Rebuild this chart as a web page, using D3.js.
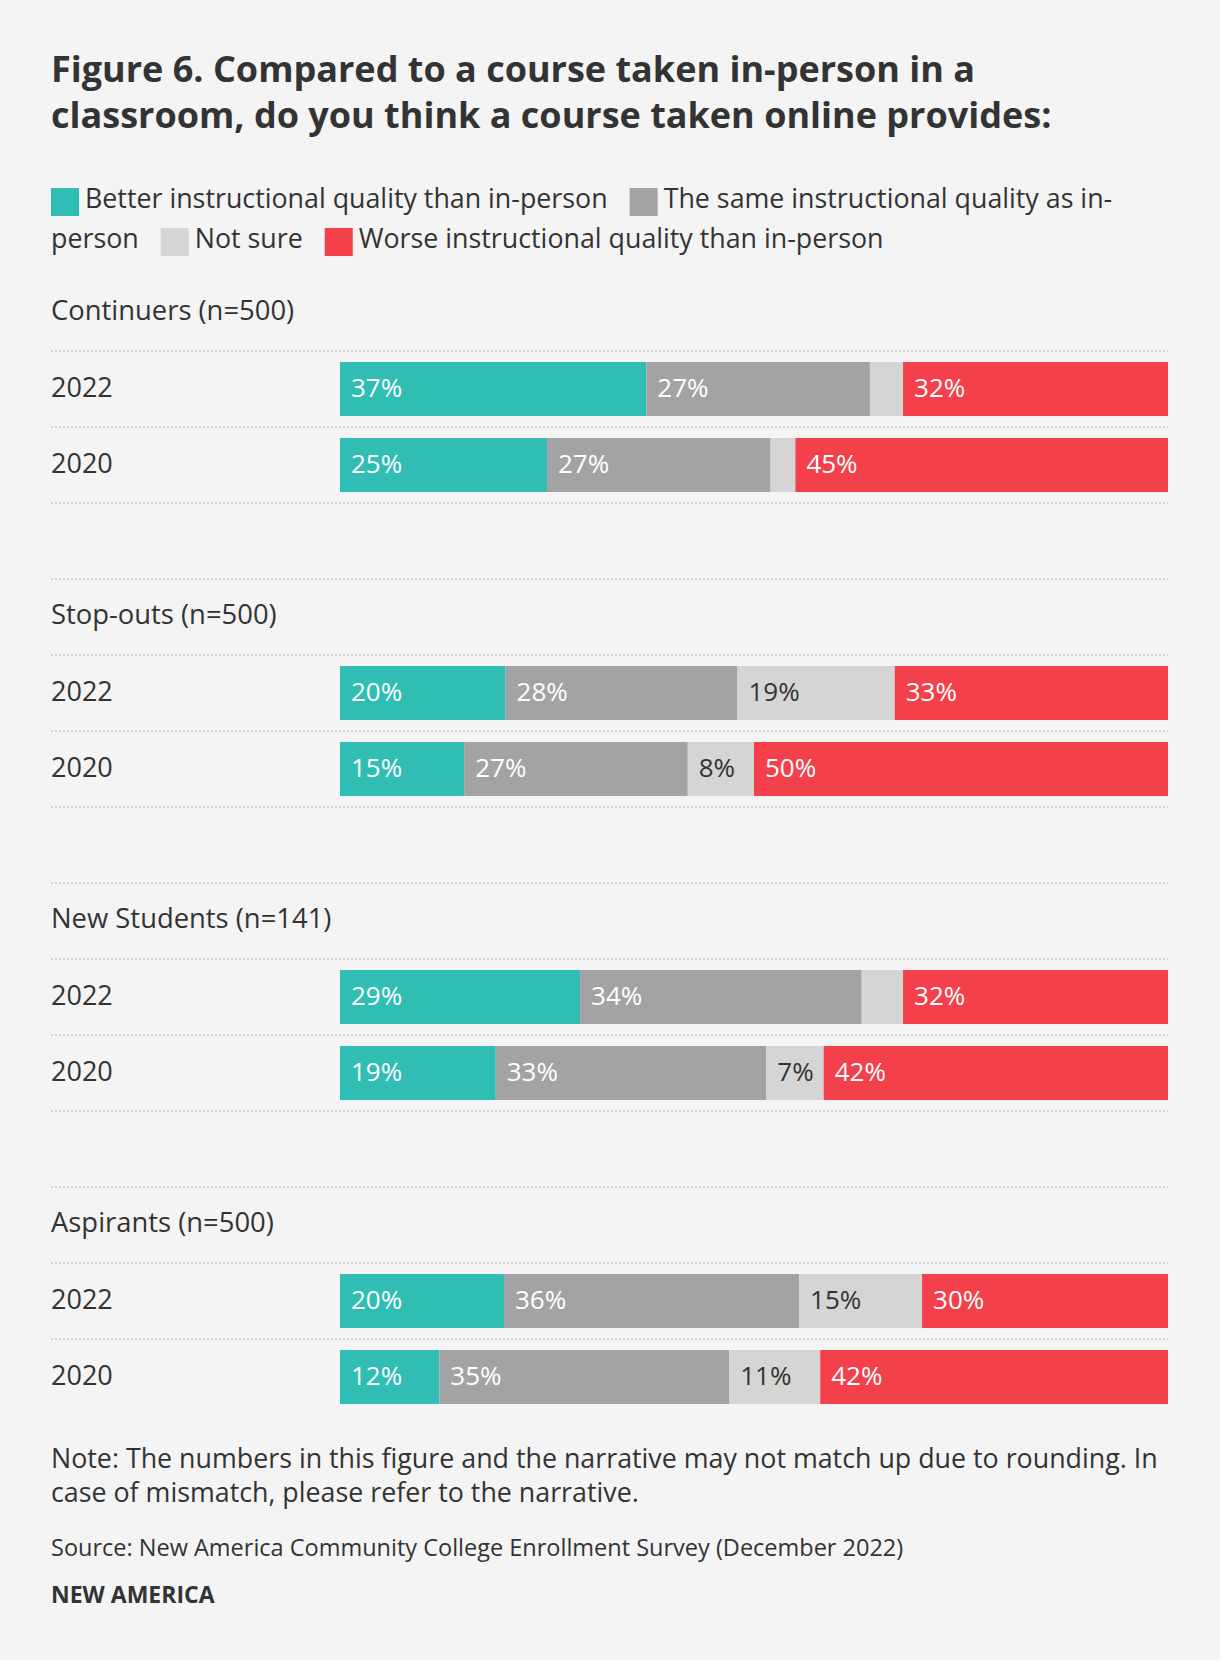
<!DOCTYPE html>
<html>
<head>
<meta charset="utf-8">
<script src="https://cdn.jsdelivr.net/npm/d3@7"></script>
<style>
  body { margin: 0; background: #f4f4f4; font-family: "Open Sans", sans-serif; color: #333; }
  #page { position: relative; width: 1220px; height: 1660px; }
  #chart { position: absolute; left: 0; top: 0; }
  .title { position: absolute; left: 51px; top: 46px; width: 1117px; margin: 0;
    font-size: 36px; font-weight: 700; line-height: 46px; }
  .note { position: absolute; left: 51px; top: 1441px; width: 1117px; font-size: 26.8px; line-height: 34px; }
  .source { position: absolute; left: 51px; top: 1533px; font-size: 23.5px; line-height: 28px; }
  .brand { position: absolute; left: 51px; top: 1580px; font-size: 23px; line-height: 28px; font-weight: 700; }
</style>
</head>
<body>
<div id="page">
  <svg id="chart" width="1220" height="1660"></svg>
  <h1 class="title">Figure 6. Compared to a course taken in-person in a classroom, do you think a course taken online provides:</h1>
  <div class="note">Note: The numbers in this figure and the narrative may not match up due to rounding. In case of mismatch, please refer to the narrative.</div>
  <div class="source">Source: New America Community College Enrollment Survey (December 2022)</div>
  <div class="brand">NEW AMERICA</div>
</div>
<script>
document.addEventListener('DOMContentLoaded', init, false);

var groups = ['Continuers (n=500)', 'Stop-outs (n=500)', 'New Students (n=141)', 'Aspirants (n=500)'];
var years = ['2022', '2020'];

// one entry per row: group 0 2022, group 0 2020, group 1 2022, ...
var better  = [37, 25, 20, 15, 29, 19, 20, 12];
var same    = [27, 27, 28, 27, 34, 33, 36, 35];
var notSure = [4, 3, 19, 8, 5, 7, 15, 11];
var worse   = [32, 45, 33, 50, 32, 42, 30, 42];

var keys = ['better', 'same', 'notSure', 'worse'];
var labels = ['Better instructional quality than in-person', 'The same instructional quality as in-person',
  'Not sure', 'Worse instructional quality than in-person'];
var colors = ['#2fbdb4', '#a3a3a3', '#d5d5d5', '#f3404a'];

var left = 51;
var barLeft = 340;
var right = 1168;
var firstTop = 351;
var groupStep = 304;
var rowsHeight = 152;

function init() {

  var color = d3.scaleOrdinal().domain(keys).range(colors);
  var svg = d3.select('#chart');

  drawLegend(svg, color);

  var rows = better.map(function (v, i) {
    return {
      group: Math.floor(i / years.length),
      year: years[i % years.length],
      better: v, same: same[i], notSure: notSure[i], worse: worse[i]
    };
  });

  var stack = d3.stack().keys(keys).offset(d3.stackOffsetExpand);
  var series = stack(rows);

  var x = d3.scaleLinear().domain([0, 1]).range([barLeft, right]);

  var y = d3.scaleBand()
    .domain(years)
    .range([0, rowsHeight])
    .paddingInner(22 / 76)
    .paddingOuter(11 / 76);

  var groupY = function (g) { return firstTop + g * groupStep; };

  // dotted rules
  var rules = [];
  groups.forEach(function (g, gi) {
    if (gi > 0) rules.push(groupY(gi) - 76);
    years.forEach(function (yr) { rules.push(groupY(gi) + y(yr) - 11); });
    if (gi < groups.length - 1) rules.push(groupY(gi) + rowsHeight);
  });

  svg.append('g').selectAll('line')
      .data(rules)
      .enter()
    .append('line')
      .attr('x1', left)
      .attr('x2', right)
      .attr('y1', function (d) { return d; })
      .attr('y2', function (d) { return d; })
      .attr('stroke', '#d2d2d2')
      .attr('stroke-width', 2)
      .attr('stroke-dasharray', '2,2');

  // group titles
  svg.append('g').selectAll('text')
      .data(groups)
      .enter()
    .append('text')
      .attr('x', left)
      .attr('y', function (d, i) { return groupY(i) - 31; })
      .attr('fill', '#333')
      .style('font-size', '27.4px')
      .text(function (d) { return d; });

  // year labels
  svg.append('g').selectAll('text')
      .data(rows)
      .enter()
    .append('text')
      .attr('x', left)
      .attr('y', function (d) { return groupY(d.group) + y(d.year) + y.bandwidth() / 2 + 8; })
      .attr('fill', '#333')
      .style('font-size', '27px')
      .text(function (d) { return d.year; });

  // bars
  var layers = svg.append('g').selectAll('g')
      .data(series)
      .enter()
    .append('g')
      .attr('fill', function (d) { return color(d.key); });

  layers.selectAll('rect')
      .data(function (d) { return d; })
      .enter()
    .append('rect')
      .attr('x', function (d) { return x(d[0]); })
      .attr('y', function (d) { return groupY(d.data.group) + y(d.data.year); })
      .attr('width', function (d) { return x(d[1]) - x(d[0]); })
      .attr('height', y.bandwidth());

  layers.selectAll('text')
      .data(function (d) {
        return d.map(function (s) { return { key: d.key, s: s }; });
      })
      .enter()
    .filter(function (d) { return d.s.data[d.key] >= 6; })
    .append('text')
      .attr('x', function (d) { return x(d.s[0]) + 11; })
      .attr('y', function (d) { return groupY(d.s.data.group) + y(d.s.data.year) + y.bandwidth() / 2 + 8; })
      .attr('fill', function (d) { return d.key == 'notSure' ? '#333' : '#fff'; })
      .style('font-size', '26px')
      .text(function (d) { return d.s.data[d.key] + '%'; });
}

// legend laid out like wrapping text: swatch + label, breaking at spaces and hyphens
function drawLegend(svg, color) {

  var g = svg.append('g')
    .attr('fill', '#333')
    .style('font-size', '26.8px');

  var lineHeight = 40;
  var cx = left;
  var cy = 208;

  var probe = g.append('text');
  function measure(s) { return probe.text(s).node().getComputedTextLength(); }

  keys.forEach(function (k, i) {
    var tokens = labels[i].split(/(?<=[ -])/);

    if (cx + 34 + measure(tokens[0]) > right) {
      cx = left;
      cy += lineHeight;
    }

    g.append('rect')
      .attr('x', cx)
      .attr('y', cy - 20)
      .attr('width', 28)
      .attr('height', 28)
      .attr('fill', color(k));
    cx += 34;

    var current = '';
    tokens.forEach(function (t) {
      var next = current + t;
      if (current && cx + measure(next.trimEnd()) > right) {
        g.append('text').attr('x', cx).attr('y', cy).text(current.trimEnd());
        cx = left;
        cy += lineHeight;
        next = t;
      }
      current = next;
    });

    g.append('text').attr('x', cx).attr('y', cy).text(current.trimEnd());
    cx += measure(current.trimEnd()) + 22;
  });

  probe.remove();
}
</script>
</body>
</html>
